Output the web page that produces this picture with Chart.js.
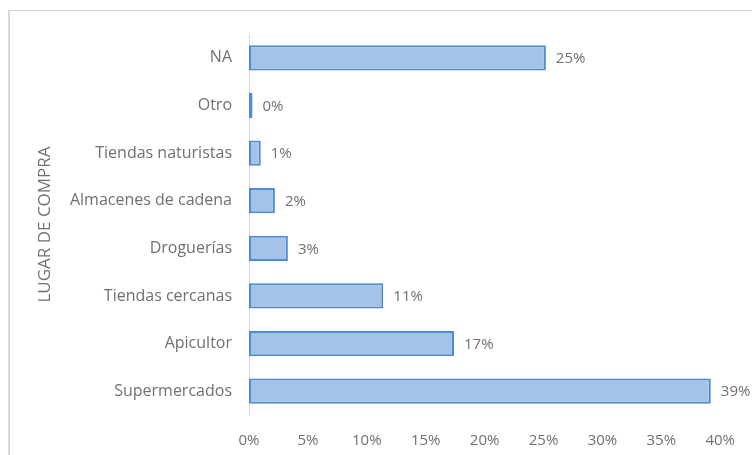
<!DOCTYPE html>
<html>
<head>
<meta charset="utf-8">
<script src="https://cdn.jsdelivr.net/npm/chart.js@4.4.1/dist/chart.umd.min.js"></script>
<style>
    html, body { margin: 0; padding: 0; background: #ffffff; overflow: hidden; }
    .wrap { position: relative; width: 752px; height: 455px; }
    .marco { position: absolute; left: 8px; top: 10px; width: 800px; height: 500px;
             border-top: 1px solid #d4d4d4; border-left: 2px solid #d9d9d9; pointer-events: none; }
    canvas { position: absolute; left: 0; top: 0; }
</style>
</head>
<body>
<div class="wrap">
    <canvas id="grafik1" width="752" height="455"></canvas>
    <div class="marco"></div>
</div>
<script>
// Lugares de compra y porcentaje de respuestas
var lugares = ["NA", "Otro", "Tiendas naturistas", "Almacenes de cadena", "Droguerías", "Tiendas cercanas", "Apicultor", "Supermercados"];
var porcentajes = [25.2, 0.3, 1.0, 2.2, 3.3, 11.4, 17.4, 39.2];
var ticksEje = [0, 5, 10, 15, 20, 25, 30, 35, 40];

var fuente = "'Open Sans', 'Noto Sans', sans-serif";
var grisTexto = "#707070";

// Etiquetas de valor al final de cada barra
var etiquetasBarra = {
    id: "etiquetasBarra",
    afterDatasetsDraw: function (chart) {
        var ctx = chart.ctx;
        var meta = chart.getDatasetMeta(0);
        ctx.save();
        ctx.font = "15px " + fuente;
        ctx.fillStyle = grisTexto;
        ctx.textAlign = "left";
        ctx.textBaseline = "middle";
        meta.data.forEach(function (bar, i) {
            var valor = chart.data.datasets[0].data[i];
            ctx.fillText(Math.round(valor) + "%", bar.x + 10, bar.y + 1);
        });
        ctx.restore();
    }
};

var ctxBar = document.getElementById("grafik1").getContext("2d");
var myChartBar = new Chart(ctxBar, {
    type: "bar",
    data: {
        labels: lugares,
        datasets: [{
            data: porcentajes,
            backgroundColor: "#a5c3e7",
            borderColor: "#4f8bd0",
            borderWidth: 2,
            borderSkipped: false,
            categoryPercentage: 1,
            barPercentage: 0.53
        }]
    },
    options: {
        indexAxis: "y",
        responsive: false,
        animation: false,
        layout: { padding: { top: 34, right: 31, left: 0, bottom: 0 } },
        plugins: {
            legend: { display: false },
            tooltip: { enabled: false }
        },
        scales: {
            x: {
                min: 0,
                max: 40,
                afterBuildTicks: function (axis) {
                    axis.ticks = ticksEje.map(function (v) { return { value: v }; });
                },
                afterFit: function (axis) { axis.height = 40; },
                grid: { display: false, drawTicks: false },
                border: { display: false },
                ticks: {
                    padding: 17,
                    color: grisTexto,
                    font: { family: fuente, size: 15 },
                    maxRotation: 0,
                    callback: function (v) { return v + "%"; }
                }
            },
            y: {
                afterFit: function (axis) { axis.width = 249; },
                grid: { display: false, drawTicks: false },
                border: { display: true, color: "#d9d9d9", width: 1 },
                ticks: {
                    padding: 17,
                    color: grisTexto,
                    font: { family: fuente, size: 16 }
                },
                title: {
                    display: true,
                    text: "LUGAR DE COMPRA",
                    color: grisTexto,
                    font: { family: fuente, size: 17 },
                    padding: { top: 35, bottom: 0 }
                }
            }
        }
    },
    plugins: [etiquetasBarra]
});
</script>
</body>
</html>
